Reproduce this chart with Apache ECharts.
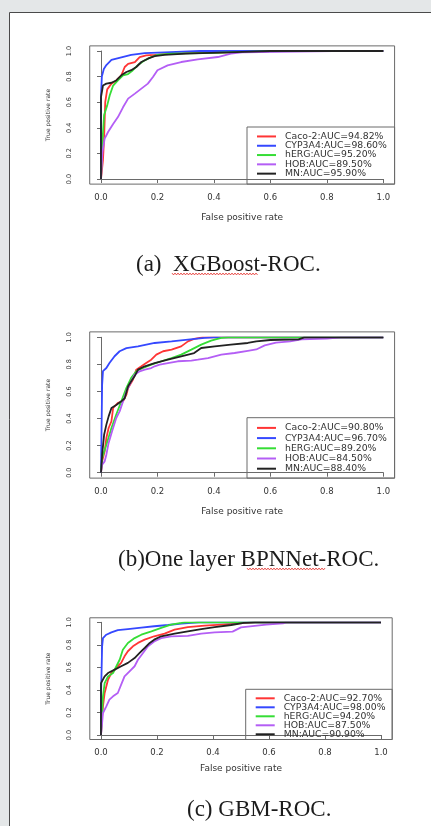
<!DOCTYPE html>
<html>
<head>
<meta charset="utf-8">
<script src="https://cdn.jsdelivr.net/npm/echarts@6.0.0/dist/echarts.min.js"></script>
<style>
  html, body { margin: 0; padding: 0; background: #e4e7e8; overflow: hidden; }
  #chart { width: 431px; height: 826px; }
</style>
</head>
<body>
<div id="chart"></div>
<script>
// 坐标轴刻度
const tickValues = [0, 0.2, 0.4, 0.6, 0.8, 1.0];
const tickLabels = ['0.0', '0.2', '0.4', '0.6', '0.8', '1.0'];

// (a) XGBoost
const xgbNames = ['Caco-2:AUC=94.82%', 'CYP3A4:AUC=98.60%', 'hERG:AUC=95.20%', 'HOB:AUC=89.50%', 'MN:AUC=95.90%'];
const xgbCaco = [[0,0],[0.007,0.15],[0.011,0.32],[0.015,0.6],[0.022,0.7],[0.037,0.745],[0.054,0.77],[0.072,0.81],[0.084,0.875],[0.096,0.9],[0.12,0.914],[0.137,0.953],[0.16,0.966],[0.19,0.97],[0.25,0.98],[0.35,0.985],[0.45,0.99],[0.6,1],[1,1]];
const xgbCyp = [[0,0],[0,0.65],[0.003,0.8],[0.01,0.86],[0.019,0.89],[0.037,0.93],[0.072,0.95],[0.107,0.97],[0.155,0.984],[0.225,0.99],[0.35,1],[1,1]];
const xgbHerg = [[0,0],[0.005,0.29],[0.011,0.5],[0.022,0.575],[0.031,0.654],[0.043,0.73],[0.06,0.77],[0.078,0.81],[0.096,0.82],[0.113,0.85],[0.131,0.89],[0.155,0.927],[0.178,0.953],[0.2,0.97],[0.25,0.98],[0.4,0.985],[0.45,0.99],[0.64,1],[1,1]];
const xgbHob = [[0,0],[0.005,0.21],[0.013,0.315],[0.025,0.367],[0.043,0.43],[0.06,0.484],[0.078,0.56],[0.096,0.628],[0.12,0.667],[0.143,0.706],[0.166,0.745],[0.184,0.797],[0.2,0.85],[0.236,0.888],[0.284,0.914],[0.343,0.935],[0.414,0.953],[0.46,0.98],[0.5,0.99],[0.82,1],[1,1]];
const xgbMn = [[0,0],[0,0.64],[0.007,0.64],[0.007,0.73],[0.019,0.745],[0.037,0.752],[0.054,0.77],[0.072,0.81],[0.09,0.836],[0.107,0.85],[0.125,0.875],[0.143,0.914],[0.166,0.94],[0.19,0.96],[0.225,0.97],[0.3,0.98],[0.45,0.99],[0.6,1],[1,1]];

// (b) One layer BPNNet
const bpNames = ['Caco-2:AUC=90.80%', 'CYP3A4:AUC=96.70%', 'hERG:AUC=89.20%', 'HOB:AUC=84.50%', 'MN:AUC=88.40%'];
const bpCaco = [[0,0],[0.004,0.084],[0.013,0.158],[0.019,0.256],[0.027,0.33],[0.037,0.38],[0.043,0.478],[0.06,0.515],[0.078,0.527],[0.09,0.576],[0.096,0.626],[0.113,0.687],[0.125,0.761],[0.143,0.786],[0.16,0.81],[0.178,0.835],[0.196,0.872],[0.22,0.897],[0.25,0.909],[0.284,0.933],[0.308,0.97],[0.33,0.988],[0.36,1],[1,1]];
const bpCyp = [[0,0],[0.004,0.65],[0.007,0.75],[0.019,0.773],[0.03,0.81],[0.048,0.86],[0.066,0.897],[0.09,0.92],[0.131,0.933],[0.19,0.958],[0.25,0.97],[0.308,0.983],[0.367,0.995],[0.4,1],[1,1]];
const bpHerg = [[0,0],[0.004,0.108],[0.019,0.207],[0.037,0.33],[0.054,0.43],[0.072,0.527],[0.09,0.626],[0.107,0.7],[0.125,0.749],[0.149,0.773],[0.178,0.798],[0.214,0.823],[0.25,0.847],[0.284,0.872],[0.32,0.909],[0.355,0.946],[0.39,0.975],[0.426,0.995],[0.45,1],[1,1]];
const bpHob = [[0,0],[0.004,0.06],[0.013,0.084],[0.019,0.133],[0.027,0.22],[0.039,0.305],[0.054,0.404],[0.066,0.453],[0.078,0.527],[0.09,0.6],[0.107,0.675],[0.119,0.724],[0.137,0.749],[0.155,0.761],[0.178,0.773],[0.19,0.786],[0.208,0.798],[0.237,0.81],[0.272,0.823],[0.32,0.828],[0.343,0.835],[0.379,0.847],[0.426,0.872],[0.473,0.884],[0.52,0.9],[0.55,0.91],[0.58,0.94],[0.62,0.96],[0.67,0.97],[0.71,0.985],[0.8,0.99],[0.85,1],[1,1]];
const bpMn = [[0,0],[0.004,0.133],[0.011,0.28],[0.019,0.355],[0.027,0.416],[0.037,0.478],[0.054,0.5],[0.072,0.527],[0.084,0.55],[0.096,0.638],[0.107,0.675],[0.119,0.712],[0.131,0.761],[0.155,0.786],[0.19,0.81],[0.237,0.835],[0.284,0.86],[0.33,0.884],[0.355,0.921],[0.403,0.933],[0.46,0.946],[0.52,0.958],[0.55,0.97],[0.6,0.98],[0.7,0.985],[0.72,1],[1,1]];

// (c) GBM
const gbmNames = ['Caco-2:AUC=92.70%', 'CYP3A4:AUC=98.00%', 'hERG:AUC=94.20%', 'HOB:AUC=87.50%', 'MN:AUC=90.90%'];
const gbmCaco = [[0,0],[0.004,0.166],[0.007,0.254],[0.013,0.373],[0.025,0.49],[0.037,0.55],[0.049,0.58],[0.06,0.61],[0.072,0.64],[0.084,0.698],[0.096,0.743],[0.114,0.787],[0.132,0.817],[0.156,0.846],[0.19,0.876],[0.227,0.9],[0.263,0.935],[0.31,0.958],[0.37,0.97],[0.43,0.98],[0.49,0.99],[0.55,1],[1,1]];
const gbmCyp = [[0,0],[0,0.34],[0.004,0.787],[0.007,0.86],[0.019,0.89],[0.037,0.91],[0.06,0.93],[0.096,0.94],[0.144,0.953],[0.19,0.965],[0.24,0.976],[0.287,0.988],[0.35,1],[1,1]];
const gbmHerg = [[0,0],[0.004,0.2],[0.007,0.343],[0.013,0.46],[0.025,0.52],[0.043,0.55],[0.055,0.61],[0.067,0.67],[0.078,0.757],[0.096,0.817],[0.12,0.86],[0.144,0.89],[0.18,0.92],[0.215,0.95],[0.25,0.98],[0.287,0.994],[0.3,1],[1,1]];
const gbmHob = [[0,0],[0.004,0.107],[0.007,0.195],[0.019,0.254],[0.03,0.314],[0.043,0.343],[0.06,0.373],[0.072,0.447],[0.084,0.52],[0.102,0.565],[0.12,0.61],[0.132,0.668],[0.15,0.728],[0.168,0.787],[0.19,0.83],[0.215,0.86],[0.25,0.876],[0.31,0.88],[0.358,0.9],[0.406,0.91],[0.47,0.917],[0.5,0.955],[0.59,0.98],[0.65,0.99],[0.66,1],[1,1]];
const gbmMn = [[0,0],[0,0.46],[0.004,0.46],[0.013,0.52],[0.025,0.55],[0.049,0.58],[0.072,0.61],[0.096,0.64],[0.12,0.683],[0.138,0.728],[0.156,0.772],[0.174,0.817],[0.19,0.846],[0.215,0.876],[0.263,0.9],[0.31,0.92],[0.358,0.94],[0.406,0.958],[0.465,0.976],[0.51,0.994],[0.55,1],[1,1]];

const captions = ['(a)  XGBoost-ROC.', '(b)One layer BPNNet-ROC.', '(c) GBM-ROC.'];

// 颜色 (R 默认风格)
const lineColors = ['#ff3535', '#3548ff', '#35dd35', '#b45ef5', '#222222'];
const sansFont = '"DejaVu Sans", "Liberation Sans", sans-serif';
const serifFont = '"Liberation Serif", "DejaVu Serif", serif';

// 每个小图的布局 (grid = 刻度 0~1 的范围)
const panels = [
  {
    grid: {left: 101, top: 51, width: 282.3, height: 128},
    legend: {boxLeft: 247, boxTop: 127, top: 131.8, rowH: 9.3},
    caption: {x: 136, base: 272, wavy: [172, 258]},
    xNameGap: 29, names: xgbNames,
    curves: [xgbCaco, xgbCyp, xgbHerg, xgbHob, xgbMn]
  },
  {
    grid: {left: 101, top: 337.3, width: 282.3, height: 135.4},
    legend: {boxLeft: 247, boxTop: 417.7, top: 422.8, rowH: 10.2},
    caption: {x: 118, base: 567, wavy: [247, 325]},
    xNameGap: 29, names: bpNames,
    curves: [bpCaco, bpCyp, bpHerg, bpHob, bpMn]
  },
  {
    grid: {left: 101, top: 622.3, width: 280, height: 112.7},
    legend: {boxLeft: 245.7, boxTop: 689.3, top: 693.8, rowH: 8.5},
    caption: {x: 187, base: 817, wavy: null},
    xNameGap: 25, names: gbmNames,
    curves: [gbmCaco, gbmCyp, gbmHerg, gbmHob, gbmMn]
  }
];

const myChart = echarts.init(document.getElementById('chart'), null, {renderer: 'canvas'});

const grids = [], xAxes = [], yAxes = [], legends = [], series = [];
const graphics = [
  // 白色面板
  {type: 'rect', z: -10, shape: {x: 9.5, y: 12.5, width: 440, height: 830},
    style: {fill: '#ffffff', stroke: '#4a4a4a', lineWidth: 1}}
];

const axisColor = '#6a6a6a';
const tickInterval = tickValues[1] - tickValues[0];

panels.forEach((p, i) => {
  const g = p.grid;
  const padX = g.width * 0.04, padY = g.height * 0.04;
  grids.push({left: g.left, top: g.top, width: g.width, height: g.height});

  xAxes.push({
    gridIndex: i, type: 'value',
    min: tickValues[0], max: tickValues[tickValues.length - 1], interval: tickInterval,
    position: 'bottom', offset: padY,
    axisLine: {show: true, lineStyle: {color: axisColor, width: 1}},
    axisTick: {show: true, length: 4, lineStyle: {color: axisColor}},
    axisLabel: {
      formatter: v => tickLabels[Math.round(v / tickInterval)],
      fontSize: 8.5, color: '#333', margin: 9, fontFamily: sansFont
    },
    splitLine: {show: false},
    name: 'False positive rate', nameLocation: 'middle', nameGap: p.xNameGap,
    nameTextStyle: {fontSize: 9, color: '#333', fontFamily: sansFont}
  });

  yAxes.push({
    gridIndex: i, type: 'value',
    min: tickValues[0], max: tickValues[tickValues.length - 1], interval: tickInterval,
    position: 'left', offset: padX,
    axisLine: {show: true, lineStyle: {color: axisColor, width: 1}},
    axisTick: {show: true, length: 4, lineStyle: {color: axisColor}},
    axisLabel: {
      formatter: v => tickLabels[Math.round(v / tickInterval)],
      rotate: 90, fontSize: 6.5, color: '#333', margin: 17, fontFamily: sansFont
    },
    splitLine: {show: false},
    name: 'True positive rate', nameLocation: 'middle', nameGap: 38,
    nameTextStyle: {fontSize: 6, color: '#333', fontFamily: sansFont}
  });

  // 绘图区外框 (R 默认四周各扩展 4%)
  const boxX = g.left - padX, boxY = g.top - padY;
  const boxW = g.width + 2 * padX, boxH = g.height + 2 * padY;
  graphics.push({type: 'rect', z: 1, shape: {x: boxX, y: boxY, width: boxW, height: boxH},
    style: {fill: 'none', stroke: axisColor, lineWidth: 1}});

  // 图例外框
  graphics.push({type: 'rect', z: 1,
    shape: {x: p.legend.boxLeft, y: p.legend.boxTop,
      width: boxX + boxW - p.legend.boxLeft, height: boxY + boxH - p.legend.boxTop},
    style: {fill: 'none', stroke: axisColor, lineWidth: 1}});

  legends.push({
    data: p.names, orient: 'vertical', selectedMode: false,
    left: p.legend.boxLeft + 10, top: p.legend.top,
    padding: 0, itemGap: 0, itemWidth: 19, itemHeight: 2, icon: 'rect',
    textStyle: {fontSize: 9.3, fontFamily: sansFont, color: '#333',
      lineHeight: p.legend.rowH, padding: [0, 0, 0, 4]}
  });

  p.curves.forEach((d, k) => {
    series.push({
      type: 'line', name: p.names[k], xAxisIndex: i, yAxisIndex: i,
      data: d, showSymbol: false, symbol: 'none', silent: true,
      color: lineColors[k],
      lineStyle: {width: 1.8, color: lineColors[k]}
    });
  });

  // 图题
  graphics.push({type: 'text', x: p.caption.x, y: p.caption.base - 7.5,
    style: {text: captions[i], font: '23px ' + serifFont, fill: '#1c1c1c',
      textAlign: 'left', textVerticalAlign: 'middle'}});

  // 拼写检查的红色波浪线
  if (p.caption.wavy) {
    const pts = [];
    const y0 = p.caption.base + 2;
    for (let x = p.caption.wavy[0], k = 0; x <= p.caption.wavy[1]; x += 1.5, k++) {
      pts.push([x, y0 + (k % 2 ? 0.9 : -0.9)]);
    }
    graphics.push({type: 'polyline', z: 2, shape: {points: pts},
      style: {stroke: '#e5312c', lineWidth: 0.9, fill: 'none'}});
  }
});

const option = {
  backgroundColor: '#e4e7e8',
  animation: false,
  grid: grids,
  xAxis: xAxes,
  yAxis: yAxes,
  legend: legends,
  series: series,
  graphic: {elements: graphics}
};

myChart.setOption(option);
</script>
</body>
</html>
